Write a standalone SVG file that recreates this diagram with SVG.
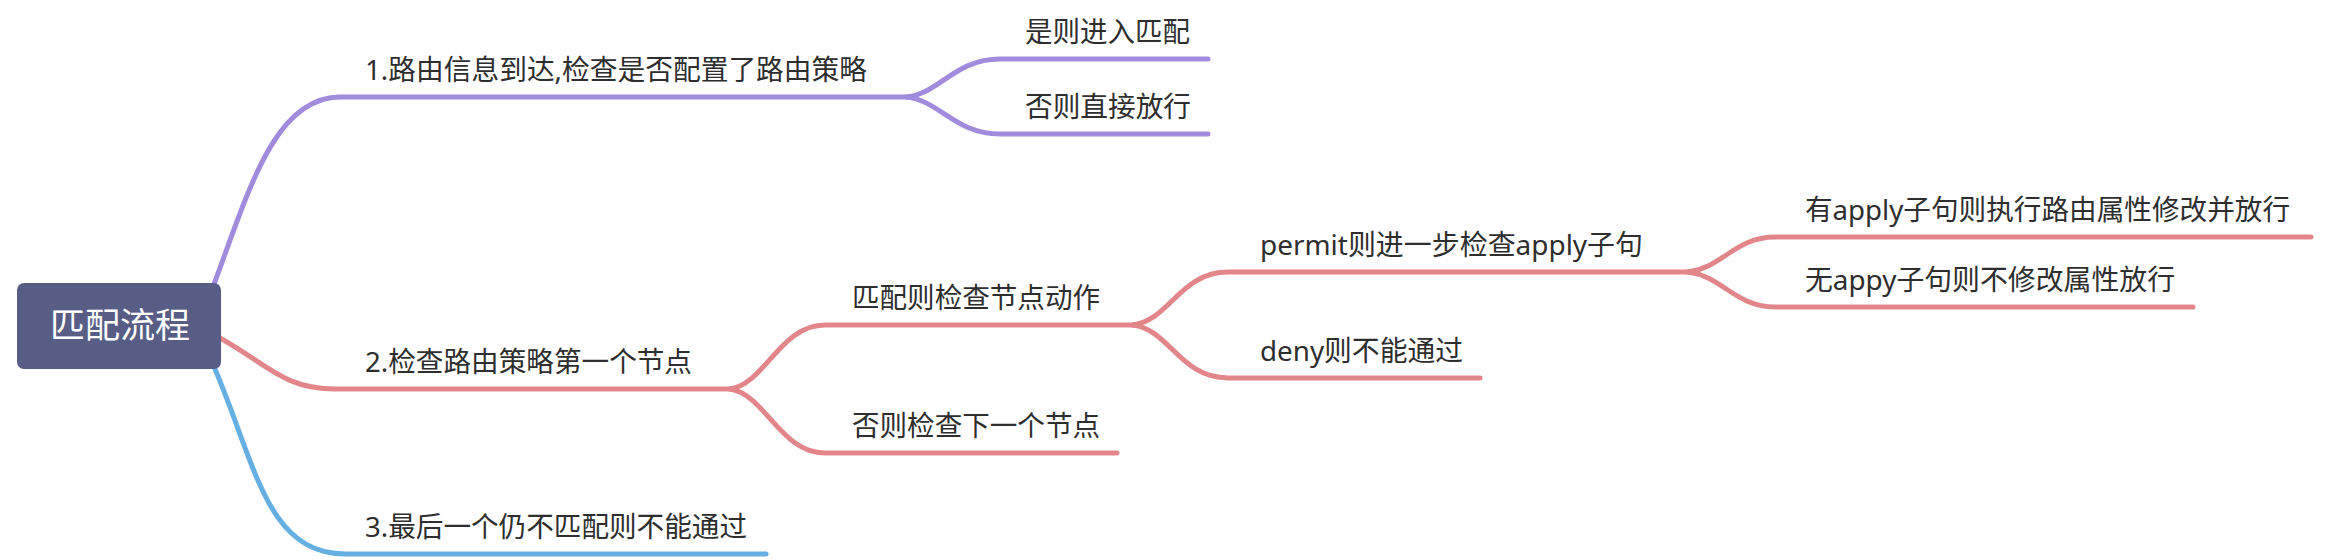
<svg xmlns="http://www.w3.org/2000/svg" width="2328" height="560" viewBox="0 0 2328 560">
<style>
.ln{fill:none;stroke-width:5;stroke-linecap:round;stroke-linejoin:round}
.pu{stroke:#a18bdd}
.rd{stroke:#e2868a}
.bl{stroke:#66afe3}
.t{font-family:"Noto Sans","Noto Sans CJK SC",sans-serif;font-size:28px;fill:#2e2e2e}
.root{font-family:"Noto Sans CJK SC","Noto Sans",sans-serif;font-size:35px;fill:#ffffff;text-anchor:middle}
</style>
<rect width="2328" height="560" fill="#ffffff"/>
<g id="connectors">
<path class="ln pu" d="M 208 300 C 245 205, 270 97, 340 97 L 907 97"/>
<path class="ln pu" d="M 907 97 C 940 93, 955 59, 1000 59 L 1208 59"/>
<path class="ln pu" d="M 907 97 C 940 101, 955 134, 1000 134 L 1208 134"/>
<path class="ln rd" d="M 218 337 C 265 362, 282 389, 335 389 L 730 389"/>
<path class="ln rd" d="M 730 389 C 765 384, 780 325, 825 325 L 1133 325"/>
<path class="ln rd" d="M 730 389 C 765 394, 780 453, 825 453 L 1117 453"/>
<path class="ln rd" d="M 1133 325 C 1170 320, 1180 272, 1228 272 L 1688 272"/>
<path class="ln rd" d="M 1133 325 C 1170 330, 1180 378, 1228 378 L 1480 378"/>
<path class="ln rd" d="M 1688 272 C 1722 268, 1735 237, 1775 237 L 2311 237"/>
<path class="ln rd" d="M 1688 272 C 1722 276, 1735 307, 1775 307 L 2193 307"/>
<path class="ln bl" d="M 212 362 C 255 460, 265 554, 345 554 L 766 554"/>
</g>
<g id="root">
<rect x="17" y="283" width="204" height="86" rx="7" fill="#575d85"/>
<text class="root" x="120" y="338">匹配流程</text>
</g>
<g id="n1"><text class="t" x="365" y="80" textLength="502" lengthAdjust="spacingAndGlyphs">1.路由信息到达,检查是否配置了路由策略</text></g>
<g id="n1a"><text class="t" x="1025" y="42" textLength="165" lengthAdjust="spacingAndGlyphs">是则进入匹配</text></g>
<g id="n1b"><text class="t" x="1025" y="117" textLength="166" lengthAdjust="spacingAndGlyphs">否则直接放行</text></g>
<g id="n2"><text class="t" x="365" y="372" textLength="327" lengthAdjust="spacingAndGlyphs">2.检查路由策略第一个节点</text></g>
<g id="n2a"><text class="t" x="852" y="308" textLength="248" lengthAdjust="spacingAndGlyphs">匹配则检查节点动作</text></g>
<g id="n2b"><text class="t" x="852" y="436" textLength="248" lengthAdjust="spacingAndGlyphs">否则检查下一个节点</text></g>
<g id="n2a1"><text class="t" x="1260" y="255" textLength="383" lengthAdjust="spacingAndGlyphs">permit则进一步检查apply子句</text></g>
<g id="n2a2"><text class="t" x="1260" y="361" textLength="203" lengthAdjust="spacingAndGlyphs">deny则不能通过</text></g>
<g id="n2a1a"><text class="t" x="1805" y="220" textLength="485" lengthAdjust="spacingAndGlyphs">有apply子句则执行路由属性修改并放行</text></g>
<g id="n2a1b"><text class="t" x="1805" y="290" textLength="370" lengthAdjust="spacingAndGlyphs">无appy子句则不修改属性放行</text></g>
<g id="n3"><text class="t" x="365" y="537" textLength="382" lengthAdjust="spacingAndGlyphs">3.最后一个仍不匹配则不能通过</text></g>
</svg>
